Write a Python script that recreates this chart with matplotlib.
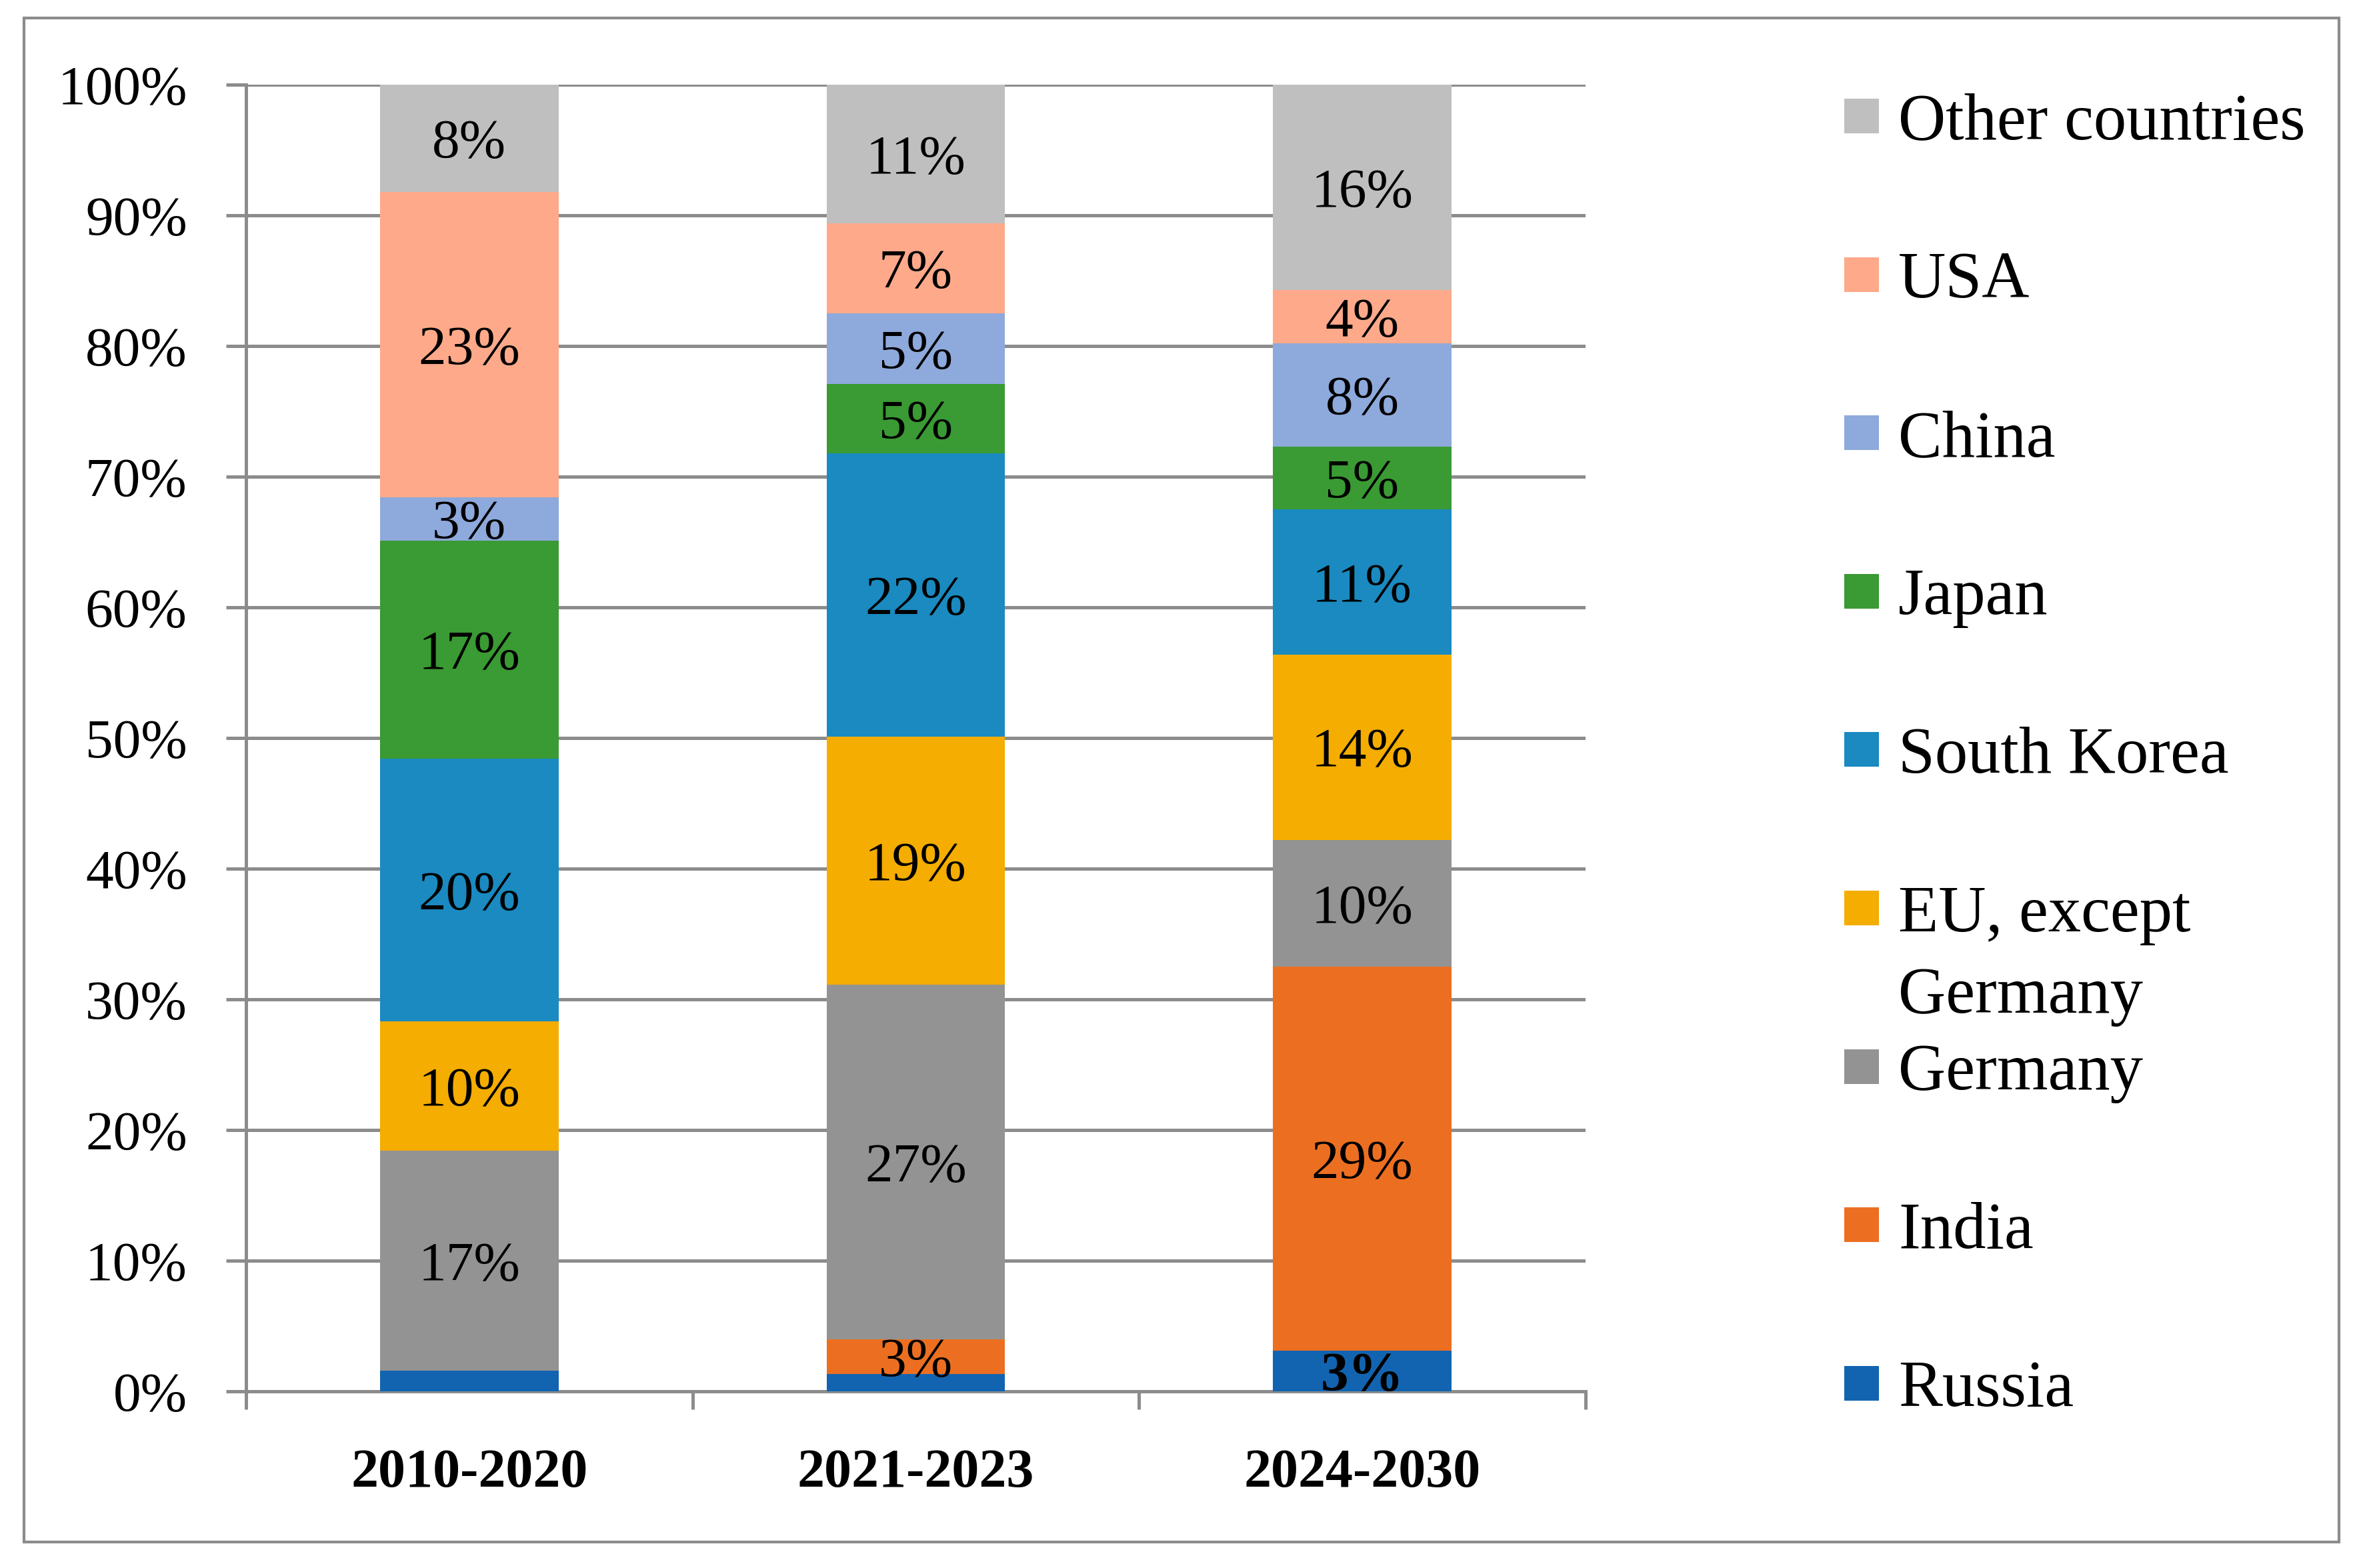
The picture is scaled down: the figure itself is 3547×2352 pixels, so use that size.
import numpy as np
import matplotlib
matplotlib.use('Agg')
import matplotlib.pyplot as plt
from matplotlib.patches import Rectangle

# periods and shares (%) by country, bottom to top of each stack
periods = ['2010-2020', '2021-2023', '2024-2030']
countries = ['Russia', 'India', 'Germany', 'EU, except\nGermany', 'South Korea',
             'Japan', 'China', 'USA', 'Other countries']
russia = [1.6, 1.3, 3.1]
india = [0.0, 2.7, 29.4]
germany = [16.8, 27.1, 9.7]
eu = [9.9, 19.0, 14.2]
south_korea = [20.1, 21.7, 11.1]
japan = [16.7, 5.3, 4.8]
china = [3.3, 5.4, 7.9]
usa = [23.4, 6.9, 4.1]
other = [8.2, 10.6, 15.7]

series = [russia, india, germany, eu, south_korea, japan, china, usa, other]
colors = ['#1264B0', '#EC6F21', '#939393', '#F4AD00', '#1A8AC0',
          '#3A9A33', '#8EA9DB', '#FDA98A', '#BFBFBF']

plt.rcParams['font.family'] = ['Liberation Serif', 'DejaVu Serif']
grid_col = '#8C8C8C'

fig = plt.figure(figsize=(17.74, 11.76), dpi=200)
ax = fig.add_axes([0.104, 0.1127, 0.5662, 0.8333])

x = np.arange(len(periods))
bottom = np.zeros(len(periods))
for name, vals, col in zip(countries, series, colors):
    vals = np.array(vals)
    ax.bar(x, vals, width=0.4, bottom=bottom, color=col, zorder=3)
    for xi, v, b in zip(x, vals, bottom):
        if v >= 2.5:
            ax.text(xi, b + v / 2, '%d%%' % round(v), ha='center', va='center_baseline',
                    fontsize=30, color='black', zorder=4,
                    fontweight='bold' if name == 'Russia' else 'normal')
    bottom += vals

ax.set_xlim(-0.5, 2.5)
ax.set_ylim(0, 100)
ax.set_yticks(np.arange(0, 101, 10))
ax.set_yticklabels(['%d%%' % t for t in range(0, 101, 10)], fontsize=30)
ax.yaxis.grid(True, color=grid_col, linewidth=1.8, zorder=0)
ax.set_axisbelow(True)

ax.set_xticks(x)
ax.set_xticklabels(periods, fontsize=29.5, fontweight='bold')
ax.set_xticks([-0.5, 0.5, 1.5, 2.5], minor=True)
ax.tick_params(axis='x', which='major', length=0, pad=31)
ax.tick_params(axis='x', which='minor', length=9.7, width=1.8, color=grid_col)
ax.tick_params(axis='y', length=10.8, width=1.8, color=grid_col, pad=21)

for s in ['top', 'right']:
    ax.spines[s].set_visible(False)
for s in ['left', 'bottom']:
    ax.spines[s].set_color(grid_col)
    ax.spines[s].set_linewidth(1.8)

# legend, top entry = last series
W, H = 3548.0, 2352.0
y0 = 174.0
dy = 237.6
line_dy = 122.0
sq = 52.0
for i, (name, col) in enumerate(zip(countries[::-1], colors[::-1])):
    yc = y0 + i * dy
    fig.add_artist(Rectangle((2766 / W, 1 - (yc + sq / 2) / H), sq / W, sq / H,
                             transform=fig.transFigure, facecolor=col, edgecolor='none'))
    for j, line in enumerate(name.split('\n')):
        fig.text(2847 / W, 1 - (yc + j * line_dy) / H, line, fontsize=35.5,
                 ha='left', va='center_baseline', color='black')

# outer frame
fig.add_artist(Rectangle((0.0101, 0.0166), 0.9786, 0.9719, transform=fig.transFigure,
                         fill=False, edgecolor=grid_col, linewidth=1.5))

fig.savefig('out.png', dpi=200, facecolor='white')
